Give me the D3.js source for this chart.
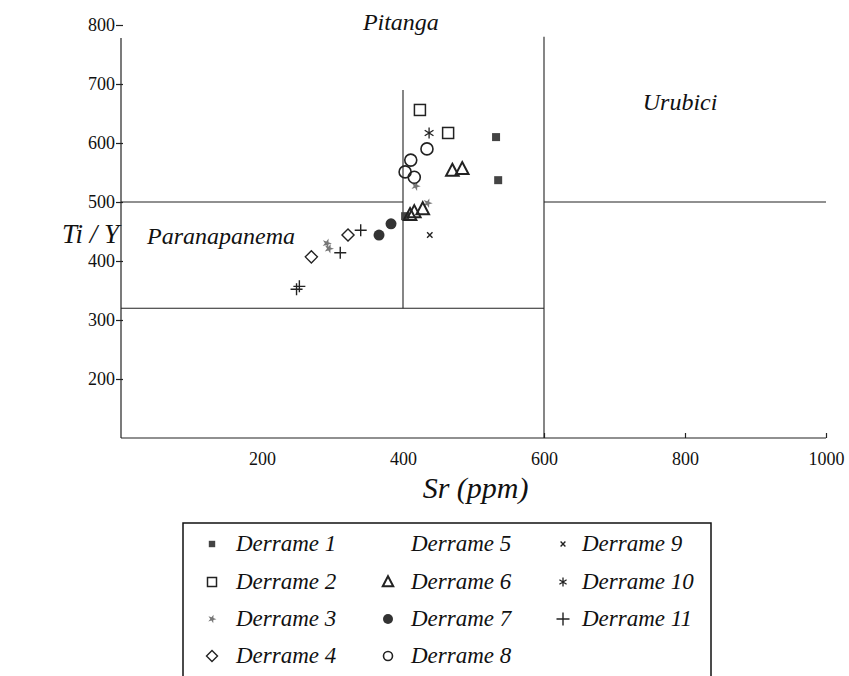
<!DOCTYPE html>
<html><head><meta charset="utf-8">
<script src="https://cdn.jsdelivr.net/npm/d3@7"></script>
<style>body{margin:0;background:#fff}svg{display:block}</style>
</head><body><svg id="c" width="849" height="676"></svg>
<script>
// ---- data ----
const xTicks = [200, 400, 600, 800, 1000];
const yTicks = [200, 300, 400, 500, 600, 700, 800];
const seriesNames = ["Derrame 1","Derrame 2","Derrame 3","Derrame 4","Derrame 5","Derrame 6","Derrame 7","Derrame 8","Derrame 9","Derrame 10","Derrame 11"];
const seriesSymbols = ["fsquare","square","arrow","diamond","none","triangle","fcircle","circle","cross","asterisk","plus"];
// [Sr ppm, Ti/Y]
const derrame1 = [[532,610],[535,537],[403,476]];
const derrame2 = [[424,656],[464,617]];
const derrame3 = [[418,527],[435,498],[292,430],[295,421]];
const derrame4 = [[270,407],[322,444]];
const derrame5 = [];
const derrame6 = [[470,553],[484,556],[410,478],[416,483],[428,488]];
const derrame7 = [[366,444],[383,463]];
const derrame8 = [[434,590],[411,571],[403,551],[416,542]];
const derrame9 = [[438,444]];
const derrame10 = [[437,617]];
const derrame11 = [[249,352],[253,357],[311,414],[340,452]];
// boundary segments [x1,y1,x2,y2] in data units
const boundaries = [[0,500,400,500],[0,320,600,320],[400,320,400,690],[600,100,600,780],[600,500,1000,500]];

const seriesData = [derrame1,derrame2,derrame3,derrame4,derrame5,derrame6,derrame7,derrame8,derrame9,derrame10,derrame11];

// ---- drawing ----
const svg = d3.select("#c");
const x = d3.scaleLinear().domain([0,1000]).range([121,826]);
const y = d3.scaleLinear().domain([100,800]).range([438,25]);
const ink = "#222";
const font = "'Liberation Serif', 'Times New Roman', serif";

// axes lines
svg.append("line").attr("x1",x(0)).attr("x2",x(0)).attr("y1",y(778)).attr("y2",y(100)).attr("stroke",ink).attr("stroke-width",1.2);
svg.append("line").attr("x1",x(0)).attr("x2",x(1000)).attr("y1",y(100)).attr("y2",y(100)).attr("stroke",ink).attr("stroke-width",1.2);

// y ticks
const yAxis = d3.axisLeft(y).tickValues(yTicks).tickSize(0).tickPadding(0).tickFormat(d3.format("d"));
const gy = svg.append("g").attr("transform",`translate(${x(0)-2},0)`).call(yAxis);
gy.select(".domain").remove();
gy.selectAll("text").attr("font-family",font).attr("font-size",18).attr("fill","#111").attr("dx",-4);
gy.selectAll(".tick").append("line").attr("x1",-3).attr("x2",4).attr("stroke",ink).attr("stroke-width",1.2);

// x ticks
const xAxis = d3.axisBottom(x).tickValues(xTicks).tickSize(0).tickPadding(14).tickFormat(d3.format("d"));
const gx = svg.append("g").attr("transform",`translate(0,${y(100)})`).call(xAxis);
gx.select(".domain").remove();
gx.selectAll("text").attr("font-family",font).attr("font-size",18).attr("fill","#111");
gx.selectAll(".tick").filter(d=>d>=600).append("line").attr("y1",0).attr("y2",-5).attr("stroke",ink).attr("stroke-width",1.2);

// boundaries
svg.append("g").selectAll("line").data(boundaries).join("line")
  .attr("x1",d=>x(d[0])).attr("y1",d=>y(d[1])).attr("x2",d=>x(d[2])).attr("y2",d=>y(d[3]))
  .attr("stroke",ink).attr("stroke-width",1.1);

// region labels
function label(t, xx, yy, size, anchor){
  svg.append("text").text(t).attr("x",xx).attr("y",yy).attr("font-family",font).attr("font-style","italic")
    .attr("font-size",size).attr("fill","#111").attr("text-anchor",anchor||"middle");
}
label("Pitanga", x(397), 30, 24);
label("Urubici", x(793), 110, 24);
label("Paranapanema", x(37), 244, 24, "start");
label("Ti / Y", 62, 243, 27, "start");
label("Sr (ppm)", x(503), 498, 30);

// symbols
function drawSym(g, type, s){
  const h = s/2;
  switch(type){
    case "fsquare": g.append("rect").attr("x",-h*0.8).attr("y",-h*0.8).attr("width",s*0.8).attr("height",s*0.8).attr("fill","#444"); break;
    case "square": g.append("rect").attr("x",-h).attr("y",-h).attr("width",s).attr("height",s).attr("fill","none").attr("stroke",ink).attr("stroke-width",1.5); break;
    case "diamond": g.append("path").attr("d",`M0,${-h*1.1}L${h*1.1},0L0,${h*1.1}L${-h*1.1},0Z`).attr("fill","none").attr("stroke",ink).attr("stroke-width",1.4); break;
    case "triangle": g.append("path").attr("d",`M0,${-h*1.15}L${h*1.05},${h*0.85}L${-h*1.05},${h*0.85}Z`).attr("fill","none").attr("stroke",ink).attr("stroke-width",2); break;
    case "fcircle": g.append("circle").attr("r",h).attr("fill","#333"); break;
    case "circle": g.append("circle").attr("r",h).attr("fill","none").attr("stroke",ink).attr("stroke-width",1.6); break;
    case "cross": g.append("path").attr("d",`M${-h*0.6},${-h*0.6}L${h*0.6},${h*0.6}M${h*0.6},${-h*0.6}L${-h*0.6},${h*0.6}`).attr("stroke",ink).attr("stroke-width",1.4); break;
    case "plus": g.append("path").attr("d",`M${-h},0L${h},0M0,${-h}L0,${h}`).attr("stroke",ink).attr("stroke-width",1.4); break;
    case "asterisk": g.append("path").attr("d",`M0,${-h}L0,${h}M${-h*0.8},${-h*0.5}L${h*0.8},${h*0.5}M${-h*0.8},${h*0.5}L${h*0.8},${-h*0.5}`).attr("stroke",ink).attr("stroke-width",1.3); break;
    case "arrow": g.append("path").attr("d",d3.symbol(d3.symbolStar, s*s*0.35)()).attr("fill","#777").attr("transform","rotate(20)"); break;
  }
}
const sizes = {fsquare:10,square:11,arrow:9,diamond:11,triangle:12,fcircle:11,circle:12,cross:9,asterisk:11,plus:12,none:0};
seriesData.forEach((arr,i)=>{
  const type = seriesSymbols[i];
  svg.append("g").selectAll("g").data(arr).join("g")
    .attr("transform",d=>`translate(${x(d[0])},${y(d[1])})`)
    .each(function(){ drawSym(d3.select(this), type, sizes[type]); });
});

// legend
const lg = svg.append("g");
lg.append("rect").attr("x",183).attr("y",523).attr("width",528).attr("height",170).attr("fill","none").attr("stroke","#111").attr("stroke-width",1.5);
const colX = [212, 388, 563], textX = [236, 411, 582];
const rowY = [551, 589, 626, 663];
seriesNames.forEach((n,i)=>{
  const c = Math.floor(i/4), r = i%4;
  const type = seriesSymbols[i];
  const g = lg.append("g").attr("transform",`translate(${colX[c]},${rowY[r]-7})`);
  const ls = {fsquare:8,square:9,arrow:8,diamond:10,triangle:10,fcircle:10,circle:9,cross:8,asterisk:9,plus:13,none:0}[type];
  drawSym(g, type, ls);
  lg.append("text").text(n).attr("x",textX[c]).attr("y",rowY[r]).attr("font-family",font).attr("font-style","italic").attr("font-size",23).attr("fill","#111");
});
</script></body></html>
